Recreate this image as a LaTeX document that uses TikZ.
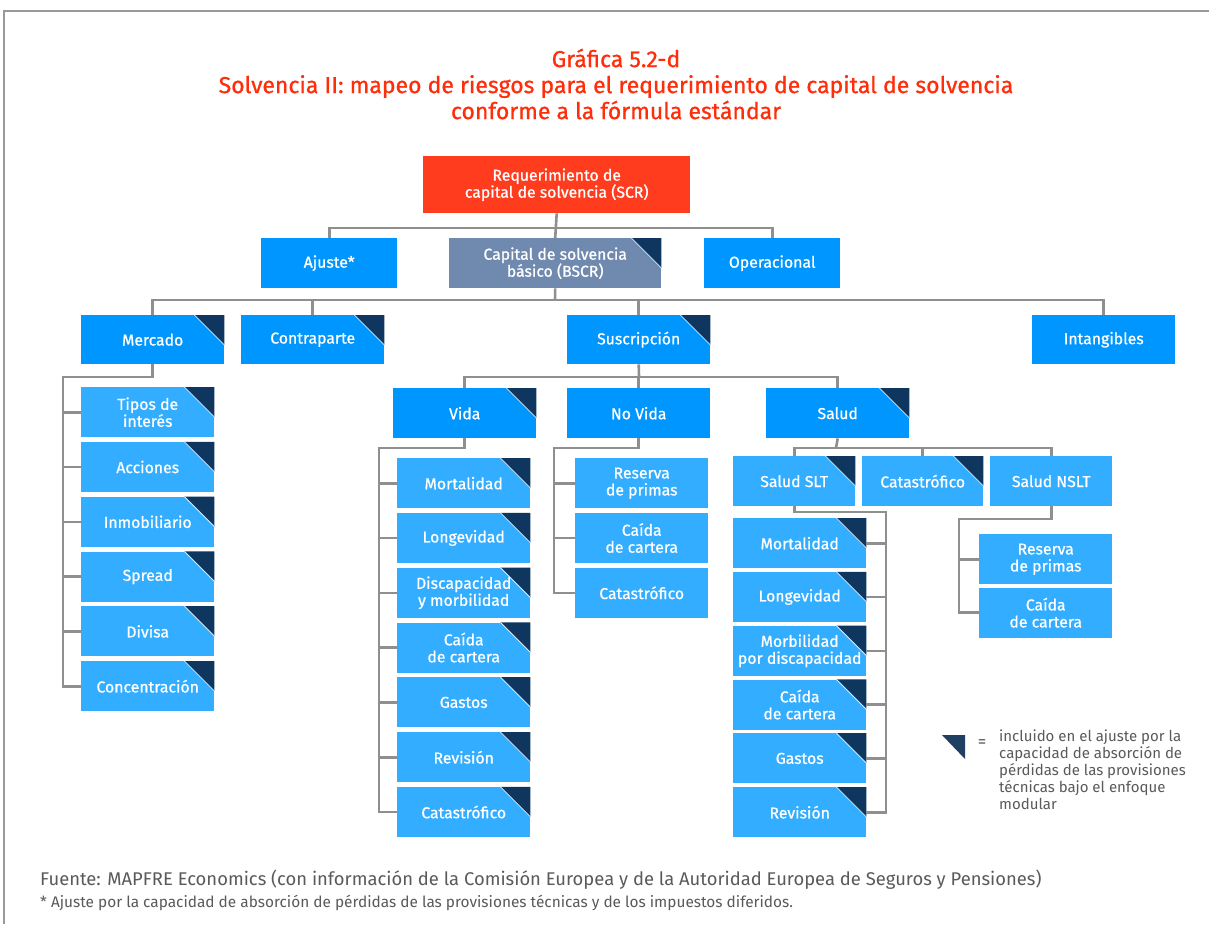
\documentclass[tikz,border=0pt]{standalone}
\usepackage{fontspec}
\setmainfont{Fira Sans}
\newfontfamily\boxff[FakeBold=0.8]{Fira Sans}
\definecolor{tred}{HTML}{FF2E0A}
\definecolor{scrred}{HTML}{FF3D1E}
\definecolor{dblue}{HTML}{0096FF}
\definecolor{lblue}{HTML}{33ADFF}
\definecolor{bscrc}{HTML}{7089AE}
\definecolor{navy}{HTML}{0E365E}
\definecolor{lgnavy}{HTML}{1F3F63}
\definecolor{lgray}{HTML}{8F8F8F}
\definecolor{fgray}{HTML}{999999}
\definecolor{tgray}{HTML}{5A5A5A}
\newcommand\bxfont{\boxff\fontsize{15.8}{17}\selectfont}
\newcommand\tri[1]{\fill[navy] ([xshift=-30pt]#1.north east) -- (#1.north east) -- ([yshift=-30pt]#1.north east) -- cycle;
  \draw[white!80!lblue, line width=0.8pt] ([xshift=-30pt]#1.north east) -- ([yshift=-30pt]#1.north east);}
\tikzset{
  bx/.style={rectangle, inner sep=0pt, anchor=north west, text=white, align=center, font=\bxfont},
  bw/.style={bx, minimum width=143pt, minimum height=49pt},
  lw/.style={bx, minimum width=133pt, minimum height=50pt, fill=lblue},
  conn/.style={draw=lgray, line width=2.6pt},
}
\begin{document}
\begin{tikzpicture}[x=1pt,y=-1pt]
\useasboundingbox (0,0) rectangle (1209,924);
\fill[white] (0,0) rectangle (1209,924);
% frame
\draw[fgray, line width=2.5pt] (4,924) -- (4,11) -- (1209,11);
% title
\node[text=tred, font=\boxff\fontsize{23}{26}\selectfont, align=center] (title) at (616,84)
  {Gráfica 5.2-d\\Solvencia II: mapeo de riesgos para el requerimiento de capital de solvencia\\conforme a la fórmula estándar};
% coordinates
\coordinate (b1) at (555,228);
\coordinate (b2) at (555,300);
\coordinate (b3) at (639,377);
\coordinate (mk) at (63,377);
\coordinate (vd) at (379,448);
\coordinate (nv) at (554,448);
\coordinate (sb) at (836,448);
\coordinate (sl) at (886,512);
\coordinate (ns) at (959,519);
% level 0
\node[bx, fill=scrred, minimum width=267pt, minimum height=57pt] (scr) at (423,156) {Requerimiento de\\capital de solvencia (SCR)};
% level 1
\node[bx, fill=dblue, minimum width=136pt, minimum height=50pt] (aj) at (261,238) {Ajuste*};
\node[bx, fill=bscrc, minimum width=212pt, minimum height=50pt] (bscr) at (449,238) {Capital de solvencia\\básico (BSCR)};
\node[bx, fill=dblue, minimum width=136pt, minimum height=50pt] (op) at (704,238) {Operacional};
% level 2
\node[bw, fill=dblue] (mer) at (81,315) {Mercado};
\node[bw, fill=dblue] (con) at (241,315) {Contraparte};
\node[bw, fill=dblue] (sus) at (567,315) {Suscripción};
\node[bw, fill=dblue] (int) at (1032,315) {Intangibles};
% level 3
\node[bw, fill=dblue, minimum height=50pt] (vida) at (393,388) {Vida};
\node[bw, fill=dblue, minimum height=50pt] (novida) at (567,388) {No Vida};
\node[bw, fill=dblue, minimum height=50pt] (salud) at (766,388) {Salud};
% salud sub
\node[bx, fill=lblue, minimum width=122pt, minimum height=50pt] (slt) at (733,456) {Salud SLT};
\node[bx, fill=lblue, minimum width=121pt, minimum height=50pt] (scat) at (862,456) {Catastrófico};
\node[bx, fill=lblue, minimum width=122pt, minimum height=50pt] (nslt) at (990,456) {Salud NSLT};
% mercado children
\node[lw] (m1) at (81,387) {Tipos de\\interés};
\node[lw] (m2) at (81,441.8) {Acciones};
\node[lw] (m3) at (81,496.6) {Inmobiliario};
\node[lw] (m4) at (81,551.4) {Spread};
\node[lw] (m5) at (81,606.2) {Divisa};
\node[lw] (m6) at (81,661) {Concentración};
% vida children
\node[lw] (v1) at (397,458) {Mortalidad};
\node[lw] (v2) at (397,512.8) {Longevidad};
\node[lw] (v3) at (397,567.6) {Discapacidad\\y morbilidad};
\node[lw] (v4) at (397,622.4) {Caída\\de cartera};
\node[lw] (v5) at (397,677.2) {Gastos};
\node[lw] (v6) at (397,732) {Revisión};
\node[lw] (v7) at (397,786.8) {Catastrófico};
% no vida children
\node[lw] (n1) at (575,458) {Reserva\\de primas};
\node[lw] (n2) at (575,512.8) {Caída\\de cartera};
\node[lw] (n3) at (575,567.6) {Catastrófico};
% salud slt children
\node[lw] (s1) at (733,518) {Mortalidad};
\node[lw] (s2) at (733,571.8) {Longevidad};
\node[lw] (s3) at (733,625.6) {Morbilidad\\por discapacidad};
\node[lw] (s4) at (733,679.4) {Caída\\de cartera};
\node[lw] (s5) at (733,733.2) {Gastos};
\node[lw] (s6) at (733,787) {Revisión};
% salud nslt children
\node[lw] (t1) at (979,534) {Reserva\\de primas};
\node[lw] (t2) at (979,587.5) {Caída\\de cartera};
% triangles
\foreach \n in {bscr,mer,con,sus,vida,salud,slt,scat,m1,m2,m3,m4,m5,m6,v1,v2,v3,v4,v5,v6,v7,s1,s2,s3,s4,s5,s6} {\tri{\n}}
% connectors
\draw[conn] (scr.south) -- (bscr.north);
\draw[conn] (aj.north) -- (aj.north |- b1) -- (op.north |- b1) -- (op.north);
\draw[conn] (bscr.south) -- (b2);
\draw[conn] (mer.north) -- (mer.north |- b2) -- (int.north |- b2) -- (int.north);
\draw[conn] (con.north) -- (con.north |- b2);
\draw[conn] (sus.north) -- (sus.north |- b2);
\draw[conn] (sus.south) -- (b3);
\draw[conn] (vida.north) -- (vida.north |- b3) -- (salud.north |- b3) -- (salud.north);
\draw[conn] (novida.north) -- (novida.north |- b3);
% mercado
\draw[conn] (mer.south) -- (mer.south |- mk) -- (mk) -- (mk |- m6.west) -- (m6.west);
\foreach \c in {m1,m2,m3,m4,m5} {\draw[conn] (mk |- \c.west) -- (\c.west);}
% vida
\draw[conn] (vida.south) -- (vida.south |- vd) -- (vd) -- (vd |- v7.west) -- (v7.west);
\foreach \c in {v1,v2,v3,v4,v5,v6} {\draw[conn] (vd |- \c.west) -- (\c.west);}
% no vida
\draw[conn] (novida.south) -- (novida.south |- nv) -- (nv) -- (nv |- n3.west) -- (n3.west);
\foreach \c in {n1,n2} {\draw[conn] (nv |- \c.west) -- (\c.west);}
% salud
\draw[conn] (salud.south) -- (sb);
\draw[conn] (slt.north) -- (slt.north |- sb) -- (nslt.north |- sb) -- (nslt.north);
\draw[conn] (scat.north) -- (scat.north |- sb);
% slt
\draw[conn] (slt.south) -- (slt.south |- sl) -- (sl) -- (sl |- s6.east) -- (s6.east);
\foreach \c in {s1,s2,s3,s4,s5} {\draw[conn] (sl |- \c.east) -- (\c.east);}
% nslt
\draw[conn] (nslt.south) -- (nslt.south |- ns) -- (ns) -- (ns |- t2.west) -- (t2.west);
\draw[conn] (ns |- t1.west) -- (t1.west);
% legend
\coordinate (lg) at (942,735);
\fill[lgnavy] (lg) -- ++(23,0) -- ++(0,24) -- cycle;
\node[text=tgray, font=\fontsize{17}{17}\selectfont] (eq) at (982,744) {=};
\node[anchor=north west, inner sep=0pt, text=tgray, align=left, font=\fontsize{15}{17}\selectfont] (lgtext) at (999,730)
  {incluido en el ajuste por la\\capacidad de absorción de\\pérdidas de las provisiones\\técnicas bajo el enfoque\\modular};
% footer
\node[anchor=west, inner sep=0pt, text=tgray, font=\fontsize{18.4}{20}\selectfont] (src) at (40,880)
  {Fuente: MAPFRE Economics (con información de la Comisión Europea y de la Autoridad Europea de Seguros y Pensiones)};
\node[anchor=west, inner sep=0pt, text=tgray, font=\fontsize{15.4}{16}\selectfont] (note) at (40,903)
  {* Ajuste por la capacidad de absorción de pérdidas de las provisiones técnicas y de los impuestos diferidos.};
\end{tikzpicture}
\end{document}
